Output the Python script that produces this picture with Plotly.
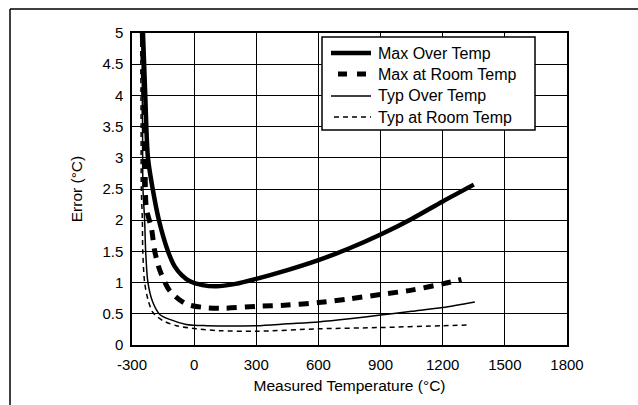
import plotly.graph_objects as go

# Error curves vs. measured temperature (°C)
max_over_x = [-247, -236, -223, -200, -170, -126, -94, -60, -20, 40, 107, 200, 300, 450, 600, 750, 900, 1050, 1200, 1350]
max_over_y = [5.0, 4.0, 3.0, 2.5, 2.0, 1.5, 1.26, 1.12, 1.02, 0.96, 0.94, 0.98, 1.06, 1.2, 1.36, 1.55, 1.77, 2.02, 2.3, 2.57]

max_room_x = [-250, -243, -237, -231, -206, -190, -166, -118, -40, 50, 150, 300, 450, 600, 750, 900, 1050, 1200, 1290]
max_room_y = [5.0, 4.0, 3.0, 2.2, 1.87, 1.5, 1.2, 0.87, 0.66, 0.6, 0.59, 0.62, 0.64, 0.68, 0.74, 0.81, 0.88, 0.98, 1.05]

typ_over_x = [-252, -249, -247, -239, -234, -223, -199, -166, -118, -38, 60, 300, 450, 600, 750, 900, 1050, 1200, 1355]
typ_over_y = [5.0, 3.5, 2.5, 2.0, 1.5, 1.0, 0.68, 0.49, 0.41, 0.33, 0.31, 0.31, 0.34, 0.37, 0.42, 0.48, 0.54, 0.6, 0.69]

typ_room_x = [-258, -256, -255, -250, -248, -239, -223, -199, -151, -86, 10, 120, 300, 600, 900, 1200, 1327]
typ_room_y = [5.0, 3.5, 2.5, 2.0, 1.5, 1.0, 0.73, 0.52, 0.39, 0.31, 0.26, 0.23, 0.22, 0.26, 0.28, 0.31, 0.32]

series_names = ["Max Over Temp", "Max at Room Temp", "Typ Over Temp", "Typ at Room Temp"]

x_ticks = [-300, 0, 300, 600, 900, 1200, 1500, 1800]
x_tick_text = ["-300", "0", "300", "600", "900", "1200", "1500", "1800"]
y_ticks = [0, 0.5, 1, 1.5, 2, 2.5, 3, 3.5, 4, 4.5, 5]
y_tick_text = ["0", "0.5", "1", "1.5", "2", "2.5", "3", "3.5", "4", "4.5", "5"]

FONT = "Liberation Sans, Arial, sans-serif"

styles = [
    dict(color="black", width=4.5),
    dict(color="black", width=5, dash="10px,8px"),
    dict(color="black", width=1.5),
    dict(color="black", width=1.5, dash="5px,4px"),
]
xs = [max_over_x, max_room_x, typ_over_x, typ_room_x]
ys = [max_over_y, max_room_y, typ_over_y, typ_room_y]

fig = go.Figure()
for name, x, y, st in zip(series_names, xs, ys, styles):
    fig.add_trace(go.Scatter(x=x, y=y, name=name, mode="lines", showlegend=False,
                             line=dict(shape="spline", smoothing=0.8, **st)))

W, H = 638, 405
L, R, T, B = 132, 71, 33, 60
pw, ph = W - L - R, H - T - B

def px(xp):
    return (xp - L) / pw

def py(yp):
    return (H - B - yp) / ph

shapes = []
# outer frame: left and top edges
shapes.append(dict(type="line", xref="paper", yref="paper", x0=px(10), x1=px(10), y0=py(9), y1=py(405),
                   line=dict(color="black", width=1.5)))
shapes.append(dict(type="line", xref="paper", yref="paper", x0=px(10), x1=px(638), y0=py(9), y1=py(9),
                   line=dict(color="black", width=1.5)))

# legend box with line samples and labels
shapes.append(dict(type="rect", xref="paper", yref="paper", x0=px(322), x1=px(535), y0=py(130), y1=py(37),
                   fillcolor="white", line=dict(color="black", width=1.5), layer="above"))
row_y = [53, 74, 96, 117]
sample_x = [(331, 371), (338, 371), (331, 371), (334, 371)]
sample_dash = [None, "9px,10px", None, "5px,4px"]
annotations = []
for name, st, ry, (sx0, sx1), dsh in zip(series_names, styles, row_y, sample_x, sample_dash):
    ln = dict(color="black", width=st["width"])
    if dsh:
        ln["dash"] = dsh
    shapes.append(dict(type="line", xref="paper", yref="paper", x0=px(sx0), x1=px(sx1), y0=py(ry), y1=py(ry),
                       line=ln, layer="above"))
    annotations.append(dict(text=name, xref="paper", yref="paper", x=px(376), y=py(ry), xanchor="left",
                            yanchor="middle", showarrow=False,
                            font=dict(family=FONT, size=16, color="black")))

fig.update_layout(
    width=W, height=H,
    margin=dict(l=L, r=R, t=T, b=B),
    paper_bgcolor="white", plot_bgcolor="white",
    font=dict(family=FONT, size=15, color="black"),
    shapes=shapes,
    annotations=annotations,
    xaxis=dict(range=[-300, 1800], tickvals=x_ticks, ticktext=x_tick_text, showgrid=True, gridcolor="black",
               gridwidth=1, zeroline=False, showline=True, linecolor="black", linewidth=1.5, mirror=True,
               ticks="", tickfont=dict(size=15), ticklabelstandoff=5,
               title=dict(text="Measured Temperature (°C)", font=dict(size=15.5), standoff=8)),
    yaxis=dict(range=[0, 5], tickvals=y_ticks, ticktext=y_tick_text, showgrid=True, gridcolor="black", gridwidth=1,
               zeroline=False, showline=True, linecolor="black", linewidth=1.5, mirror=True,
               ticks="", tickfont=dict(size=15), ticklabelstandoff=4,
               title=dict(text="Error (°C)", font=dict(size=15.5), standoff=16)),
)

fig.write_html("out.html")
